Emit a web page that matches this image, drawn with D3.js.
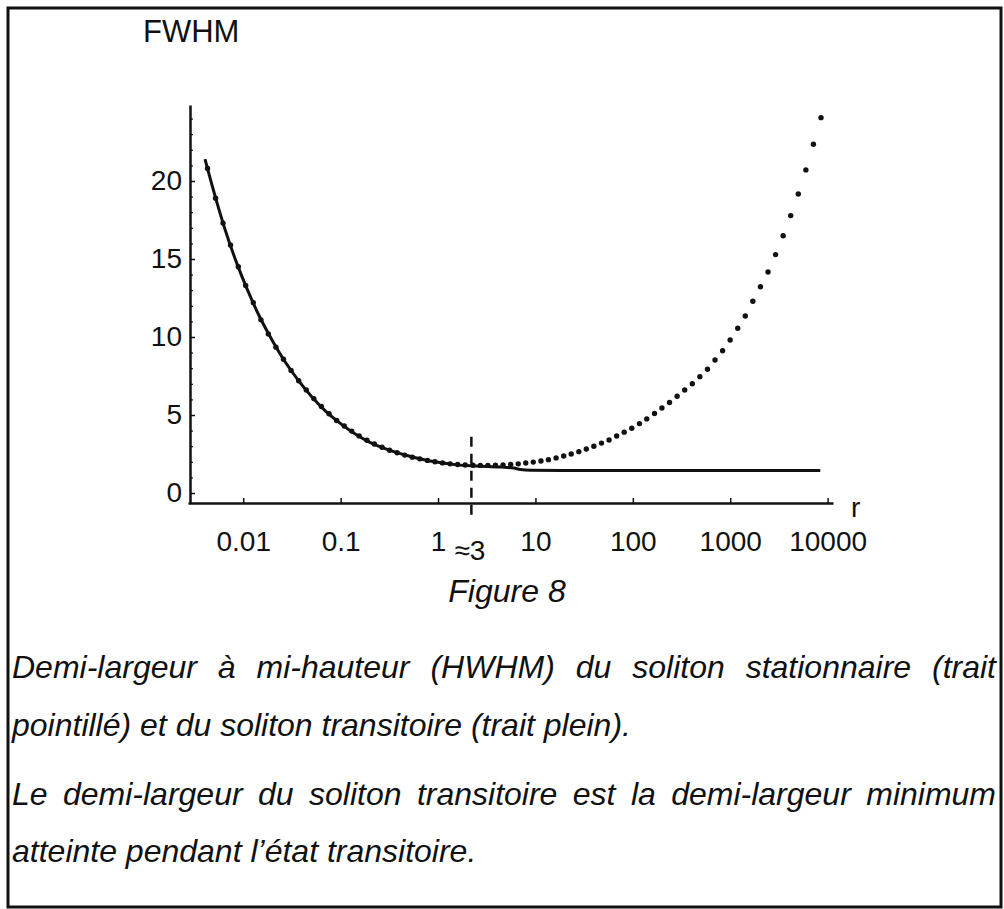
<!DOCTYPE html>
<html>
<head>
<meta charset="utf-8">
<script src="https://cdn.jsdelivr.net/npm/d3@7"></script>
<style>
  body { margin: 0; background: #fff; }
  svg text { font-family: "Liberation Sans", Arial, Helvetica, sans-serif; fill: #111; }
</style>
</head>
<body>
<svg width="1004" height="909"></svg>
<script>
// transient soliton (solid line): [r, FWHM]
transient = [
  [0.00405, 21.4], [0.005, 19.3], [0.0065, 16.9], [0.0085, 14.8], [0.011, 13.05],
  [0.015, 11.2], [0.02, 9.75], [0.027, 8.4], [0.036, 7.3], [0.05, 6.2],
  [0.07, 5.25], [0.1, 4.45], [0.14, 3.8], [0.2, 3.25], [0.3, 2.8],
  [0.45, 2.45], [0.7, 2.15], [1, 1.97], [1.5, 1.82], [2.2, 1.74],
  [3.2, 1.7], [4.5, 1.66], [6, 1.6], [7, 1.5], [9, 1.46],
  [20, 1.45], [100, 1.45], [1000, 1.45], [8400, 1.45]
];

// stationary soliton (dotted): [r, FWHM]
stationary = [
  [0.0043, 20.8], [0.0052, 18.9], [0.0062, 17.3], [0.0074, 15.9], [0.0089, 14.5],
  [0.0106, 13.3], [0.0127, 12.2], [0.0152, 11.1], [0.0181, 10.2], [0.0217, 9.35],
  [0.0259, 8.57], [0.031, 7.86], [0.0371, 7.2], [0.0444, 6.6], [0.0531, 6.05],
  [0.0635, 5.55], [0.076, 5.08], [0.091, 4.65], [0.109, 4.3], [0.13, 3.97],
  [0.155, 3.66], [0.186, 3.38], [0.222, 3.14], [0.266, 2.93], [0.318, 2.74],
  [0.38, 2.58], [0.455, 2.43], [0.544, 2.3], [0.65, 2.19], [0.78, 2.09],
  [0.93, 2.0], [1.11, 1.93], [1.33, 1.87], [1.59, 1.83], [1.9, 1.8],
  [2.28, 1.78], [2.72, 1.77], [3.25, 1.77], [3.89, 1.78], [4.65, 1.8],
  [5.57, 1.83], [6.66, 1.87], [7.96, 1.92], [9.5, 1.98], [11.4, 2.05],
  [13.6, 2.14], [16.3, 2.25], [19.5, 2.37], [23.3, 2.5], [27.9, 2.65],
  [33.3, 2.82], [39.8, 3.0], [47.7, 3.2], [57, 3.4], [68.2, 3.65],
  [81.5, 3.9], [97.5, 4.15], [117, 4.45], [139, 4.75], [167, 5.1],
  [199, 5.45], [238, 5.8], [285, 6.2], [341, 6.6], [408, 7.0],
  [488, 7.46], [584, 7.93], [698, 8.53], [835, 9.12], [998, 9.81],
  [1194, 10.56], [1428, 11.35], [1708, 12.29], [2043, 13.22], [2443, 14.17],
  [2922, 15.28], [3494, 16.49], [4179, 17.78], [4998, 19.17], [5978, 20.71],
  [7150, 22.35], [8551, 24.06]
];

xTicks = [0.01, 0.1, 1, 10, 100, 1000, 10000];
xTickLabels = ['0.01', '0.1', '1', '10', '100', '1000', '10000'];
yTicks = [0, 5, 10, 15, 20];
yMinorTicks = [1, 2, 3, 4, 6, 7, 8, 9, 11, 12, 13, 14, 16, 17, 18, 19, 21, 22, 23, 24];
MARK_R = 2.2;        // dashed marker, labelled "≈3"
MARK_TOP = 3.6;
MARK_LABEL = '≈3';

captionLines = [
  'Demi-largeur à mi-hauteur (HWHM) du soliton stationnaire (trait',
  'pointillé) et du soliton transitoire (trait plein).',
  'Le demi-largeur du soliton transitoire est la demi-largeur minimum',
  'atteinte pendant l’état transitoire.'
];
captionJustified = [true, false, true, false];

X_LEFT = 188
X_RIGHT = 833
Y_AXIS = 503
Y_TOP = 105
TICK_FONT = 28
CAPTION_FONT = 32

svg = d3.select('svg');

// frame
svg.append('rect')
  .attr('x', 8).attr('y', 8)
  .attr('width', 993).attr('height', 899)
  .attr('fill', 'none').attr('stroke', '#111').attr('stroke-width', 3);

x = d3.scaleLog().domain([0.00271, 11355]).range([X_LEFT, X_RIGHT]);
y = d3.scaleLinear().domain([-0.64, 24.87]).range([Y_AXIS, Y_TOP]);

// x axis
gx = svg.append('g')
  .attr('transform', 'translate(0,' + Y_AXIS + ')')
  .call(d3.axisBottom(x).tickValues(xTicks)
    .tickFormat(function (d, i) { return xTickLabels[i]; })
    .tickSizeInner(-5).tickSizeOuter(0).tickPadding(28));
gx.select('.domain').attr('stroke', '#111').attr('stroke-width', 2.5);
gx.selectAll('.tick line').attr('stroke', '#111').attr('stroke-width', 1.5);
gx.selectAll('text').attr('font-size', TICK_FONT).attr('font-family', null).attr('fill', '#111');

// y axis
gy = svg.append('g')
  .attr('transform', 'translate(' + (X_LEFT + 2) + ',0)')
  .call(d3.axisLeft(y).tickValues(yTicks)
    .tickSizeInner(-5).tickSizeOuter(0).tickPadding(8));
gy.select('.domain').attr('stroke', '#111').attr('stroke-width', 2.5);
gy.selectAll('.tick line').attr('stroke', '#111').attr('stroke-width', 1.5);
gy.selectAll('text').attr('font-size', TICK_FONT).attr('font-family', null).attr('fill', '#111');

gm = svg.append('g')
  .attr('transform', 'translate(' + (X_LEFT + 2) + ',0)')
  .call(d3.axisLeft(y).tickValues(yMinorTicks).tickSize(-3).tickFormat(''));
gm.select('.domain').remove();
gm.selectAll('.tick line').attr('stroke', '#111').attr('stroke-width', 1.2);

// axis titles
svg.append('text').attr('x', 143).attr('y', 42).attr('font-size', 31).text('FWHM');
svg.append('text').attr('x', 851).attr('y', 517).attr('font-size', 28).text('r');

// dashed marker
svg.append('line')
  .attr('x1', x(MARK_R)).attr('x2', x(MARK_R))
  .attr('y1', y(MARK_TOP)).attr('y2', Y_AXIS + 17)
  .attr('stroke', '#111').attr('stroke-width', 2.5)
  .attr('stroke-dasharray', '10,7');
svg.append('text')
  .attr('x', x(MARK_R) - 17).attr('y', Y_AXIS + 57)
  .attr('font-size', TICK_FONT).text(MARK_LABEL);

// solid curve
line = d3.line()
  .x(function (d) { return x(d[0]); })
  .y(function (d) { return y(d[1]); })
  .curve(d3.curveMonotoneX);
svg.append('path')
  .datum(transient)
  .attr('d', line)
  .attr('fill', 'none').attr('stroke', '#111').attr('stroke-width', 3);

// dotted curve
svg.append('g').selectAll('circle')
  .data(stationary)
  .enter()
  .append('circle')
  .attr('cx', function (d) { return x(d[0]); })
  .attr('cy', function (d) { return y(d[1]); })
  .attr('r', 2.7)
  .attr('fill', '#111');

// caption
svg.append('text')
  .attr('x', 507).attr('y', 602)
  .attr('text-anchor', 'middle').attr('font-size', CAPTION_FONT)
  .attr('font-style', 'italic').text('Figure 8');

CAP_LEFT = 12
CAP_RIGHT = 996
capBaselines = [678, 736, 805, 862];

captionLines.forEach(function (txt, i) {
  if (!captionJustified[i]) {
    svg.append('text')
      .attr('x', CAP_LEFT).attr('y', capBaselines[i])
      .attr('font-size', CAPTION_FONT).attr('font-style', 'italic')
      .text(txt);
    return;
  }
  words = txt.split(' ');
  nodes = words.map(function (w) {
    return svg.append('text')
      .attr('y', capBaselines[i])
      .attr('font-size', CAPTION_FONT).attr('font-style', 'italic')
      .text(w);
  });
  widths = nodes.map(function (n) { return n.node().getComputedTextLength(); });
  gap = (CAP_RIGHT - CAP_LEFT - d3.sum(widths)) / (words.length - 1);
  pos = CAP_LEFT;
  nodes.forEach(function (n, j) {
    n.attr('x', pos);
    pos += widths[j] + gap;
  });
});
</script>
</body>
</html>
